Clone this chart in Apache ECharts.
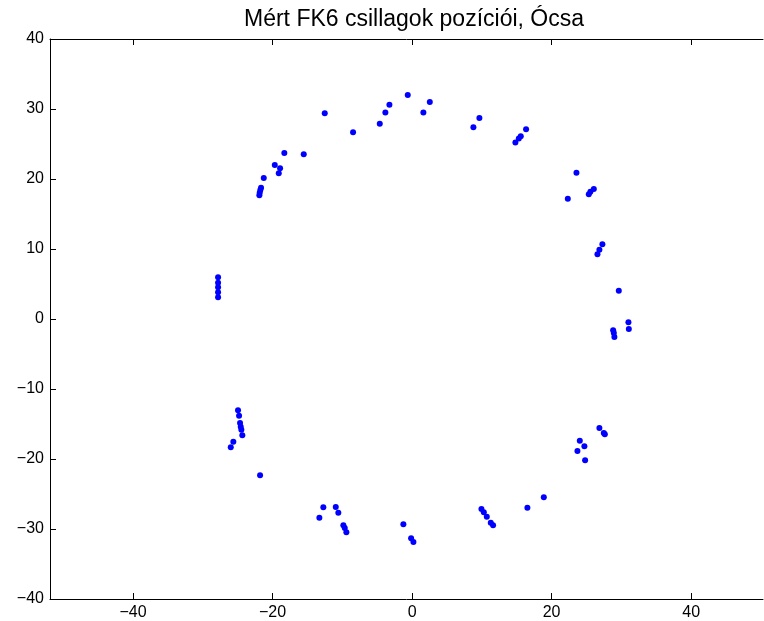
<!DOCTYPE html>
<html>
<head>
<meta charset="utf-8">
<script src="https://cdn.jsdelivr.net/npm/echarts@6/dist/echarts.min.js"></script>
<style>html,body{margin:0;padding:0;background:#fff}#c{width:764px;height:621px}</style>
</head>
<body>
<div id="c"></div>
<script>
var titleText = 'Mért FK6 csillagok pozíciói, Ócsa';
var xTicks = [-40, -20, 0, 20, 40];
var yTicks = [-40, -30, -20, -10, 0, 10, 20, 30, 40];
var starX = [
  -4.63, -3.83, -3.25, -0.62, 2.54, 1.62, 8.79, 9.65, 14.81, 15.3, 15.58, 16.34,
  -12.52, -8.46, -18.31, -15.53, -19.68, -18.92, -19.11, -21.26, -21.65, -21.75, -21.84, -21.89,
  23.56, 22.32, 26.05, 25.56, 25.33, 27.28, 26.85, 26.57,
  29.63, 31.01, 31.07, 28.82, 28.92, 29.0,
  -27.81, -27.81, -27.81, -27.81, -27.81,
  -24.95, -24.8, -24.66, -24.56, -24.47, -24.33, -25.62, -25.99, -21.79,
  26.85, 27.48, 27.63, 24.04, 24.7, 23.7, 24.8, 18.88,
  9.94, 10.28, 10.71, 11.28, 11.61, 16.53,
  -12.72, -13.29, -10.94, -10.57, -9.85, -9.65, -9.42, -1.25, -0.14, 0.19
];
var starY = [
  27.9, 29.5, 30.6, 32.0, 31.0, 29.5, 27.4, 28.7, 25.2, 25.8, 26.1, 27.1,
  29.39, 26.67, 23.71, 23.53, 22.0, 21.53, 20.81, 20.14, 18.76, 18.43, 18.04, 17.67,
  20.9, 17.19, 18.57, 18.19, 17.81, 10.67, 9.9, 9.24,
  4.04, -0.47, -1.43, -1.61, -2.0, -2.57,
  5.96, 5.19, 4.52, 3.81, 3.1,
  -13.04, -13.81, -14.86, -15.39, -15.81, -16.61, -17.53, -18.33, -22.33,
  -15.57, -16.29, -16.47, -17.39, -18.19, -18.86, -20.19, -25.47,
  -27.14, -27.61, -28.24, -29.1, -29.47, -26.96,
  -26.9, -28.39, -26.86, -27.67, -29.47, -29.86, -30.47, -29.33, -31.33, -31.86
];
var pts = starX.map(function (x, i) { return [x, starY[i]]; });
function fmt(v) { return String(v).replace('-', '\u2212'); }
var font = 'Liberation Sans, Arial, sans-serif';
var chart = echarts.init(document.getElementById('c'), null, {renderer: 'canvas'});
var axLine = {show: true, onZero: false, lineStyle: {color: '#000', width: 1}};
var xMin = -51.9, xMax = 50.3;
chart.setOption({
  animation: false,
  backgroundColor: '#fff',
  title: {text: titleText, left: 409, textAlign: 'center', top: 3,
    textStyle: {fontFamily: font, fontSize: 23, fontWeight: 'normal', color: '#000'}},
  grid: {left: 50, top: 39, right: 1, height: 560, containLabel: false},
  xAxis: [{
    type: 'value', min: xMin, max: xMax, position: 'bottom',
    axisLine: axLine, splitLine: {show: false},
    axisTick: {show: true, inside: true, length: 6, customValues: xTicks, lineStyle: {color: '#000'}},
    axisLabel: {show: true, customValues: xTicks, formatter: fmt, margin: 6,
      fontFamily: font, fontSize: 16, color: '#000'}
  }, {
    type: 'value', min: xMin, max: xMax, position: 'top',
    axisLine: axLine, splitLine: {show: false},
    axisTick: {show: true, inside: true, length: 6, customValues: xTicks, lineStyle: {color: '#000'}},
    axisLabel: {show: false}
  }],
  yAxis: [{
    type: 'value', min: -40, max: 40, interval: 10, position: 'left',
    axisLine: axLine, splitLine: {show: false},
    axisTick: {show: true, inside: true, length: 6, lineStyle: {color: '#000'}},
    axisLabel: {formatter: fmt, margin: 6, fontFamily: font, fontSize: 16, color: '#000'}
  }],
  series: [{
    type: 'scatter', xAxisIndex: 0, yAxisIndex: 0, data: pts,
    symbol: 'circle', symbolSize: 6,
    itemStyle: {color: '#0000ff', opacity: 1}
  }]
});
</script>
</body>
</html>
